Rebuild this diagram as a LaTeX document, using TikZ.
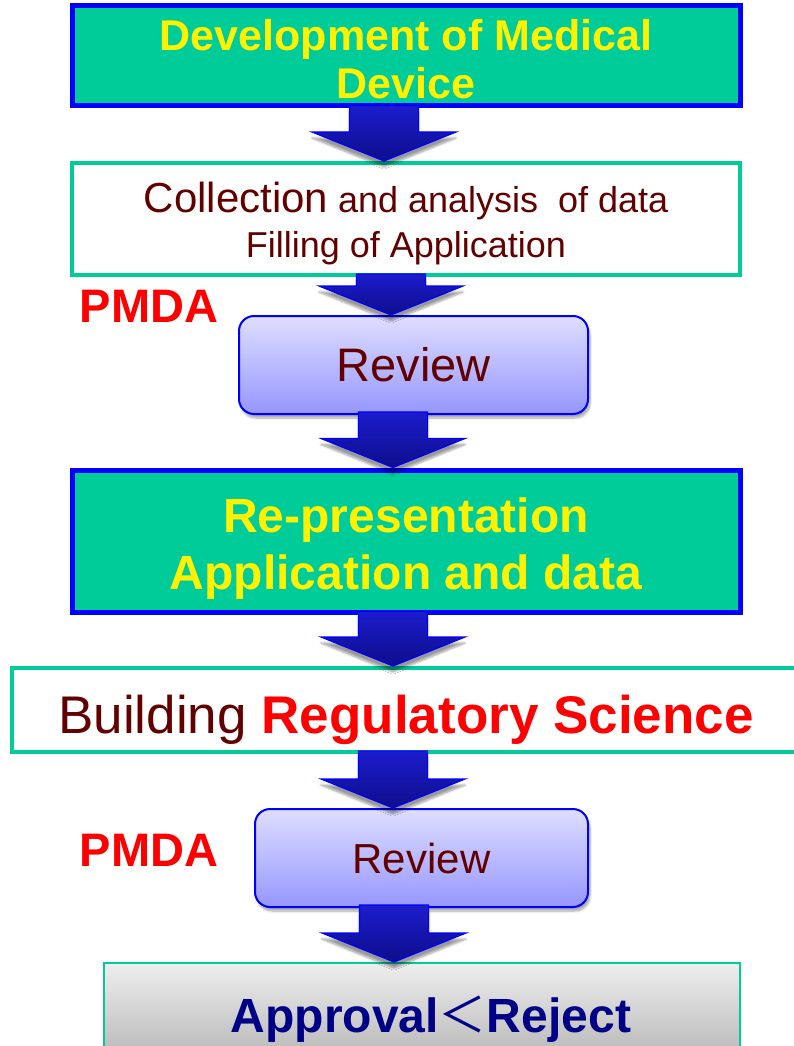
\documentclass[tikz,border=0pt]{standalone}
\usepackage{fontspec}
\setmainfont{Liberation Sans}
\newfontfamily\cjk{Noto Sans CJK JP}
\usepackage{tikz}
\usetikzlibrary{calc,shadows.blur}

\definecolor{SeaGreenBox}{RGB}{0,204,153}
\definecolor{DarkMaroon}{RGB}{98,0,0}
\definecolor{ReviewTop}{RGB}{222,222,255}
\definecolor{ReviewBottom}{RGB}{150,150,255}
\definecolor{ArrowTop}{RGB}{28,28,205}
\definecolor{ArrowBottom}{RGB}{14,14,140}
\definecolor{GreyTop}{RGB}{238,238,238}
\definecolor{GreyBottom}{RGB}{182,182,182}
\definecolor{NavyText}{RGB}{0,0,135}

% font size and line distance, both in pt (= px of the slide)
\newcommand{\fs}[2]{\fontsize{#1}{#2}\selectfont}

% block arrow from the bottom of one box down to the top of the next
\newcommand{\blockarrow}[3]{%
  \path let \p1=(#1.south), \p2=(#2.north) in [flowarrow]
    (#3pt-34.5pt,\y1+3pt) -- (#3pt+34.5pt,\y1+3pt) -- (#3pt+34.5pt,\y2+29pt)
    -- (#3pt+72pt,\y2+29pt) -- (#3pt,\y2) -- (#3pt-72pt,\y2+29pt)
    -- (#3pt-34.5pt,\y2+29pt) -- cycle;
}

\begin{document}
\begin{tikzpicture}[x=1pt,y=-1pt,line join=miter,
  greenbox/.style={draw=blue,line width=5pt,fill=SeaGreenBox,rectangle,
    text=yellow,align=center,inner sep=0pt},
  whitebox/.style={draw=SeaGreenBox,line width=4pt,fill=white,rectangle,
    text=DarkMaroon,align=center,inner sep=0pt},
  reviewbox/.style={draw=blue,line width=2pt,rounded corners=15pt,
    top color=ReviewTop,bottom color=ReviewBottom,text=DarkMaroon,inner sep=0pt,
    blur shadow={shadow xshift=2pt,shadow yshift=-4pt,shadow opacity=35,shadow blur steps=8}},
  greybox/.style={draw=SeaGreenBox,line width=2pt,rectangle,
    top color=GreyTop,bottom color=GreyBottom,text=NavyText,inner sep=0pt},
  agency/.style={text=red,font=\bfseries\fs{47}{54},inner sep=0pt},
  flowarrow/.style={draw=blue,line width=1.2pt,top color=ArrowTop,bottom color=ArrowBottom,
    blur shadow={shadow xshift=0pt,shadow yshift=-6pt,shadow opacity=40,shadow blur steps=8}},
]
\useasboundingbox (0,0) rectangle (794,1046);
%%
\begin{scope}
  \node (Development) at (406,56) [greenbox,minimum width=668,minimum height=100,
    font=\bfseries\fs{43}{48}]
    {\rule{0pt}{38pt}Development of Medical\\Device};
  \node (Collection) at (406,219) [whitebox,minimum width=668,minimum height=112,
    font=\fs{36}{45}]
    {\rule{0pt}{40pt}{\fs{42}{45}Collection} and analysis\ \ of data\\Filling of Application};
  \node (Review1) at (413.5,365) [reviewbox,minimum width=349,minimum height=98,
    font=\fs{47}{54}] {Review};
  \node (Representation) at (406,541) [greenbox,minimum width=668,minimum height=142,
    font=\bfseries\fs{48}{57}]
    {\rule{0pt}{49pt}Re-presentation\\Application and data};
  \node (Building) at (406,710) [whitebox,minimum width=788,minimum height=84,
    font=\fs{53}{60},text height=57pt,text depth=11pt]
    {Building {\bfseries\color{red}Regulatory Science}};
  \node (Review2) at (421.5,858) [reviewbox,minimum width=333,minimum height=98,
    font=\fs{42}{48}] {Review};
  \node (Approval) at (422,1012) [greybox,minimum width=636,minimum height=98,
    font=\bfseries\fs{48}{54},text height=50pt,text depth=10pt]
    {\hspace*{18pt}Approval{\cjk\mdseries ＜}Reject};
  \node (PMDA1) at (149,306) [agency] {PMDA};
  \node (PMDA2) at (149,850) [agency] {PMDA};
\end{scope}
%
\begin{scope}
  \blockarrow{Development}{Collection}{384}
  \blockarrow{Collection}{Review1}{391}
  \blockarrow{Review1}{Representation}{393}
  \blockarrow{Representation}{Building}{393}
  \blockarrow{Building}{Review2}{393}
  \blockarrow{Review2}{Approval}{394}
\end{scope}
%
\end{tikzpicture}
\end{document}
